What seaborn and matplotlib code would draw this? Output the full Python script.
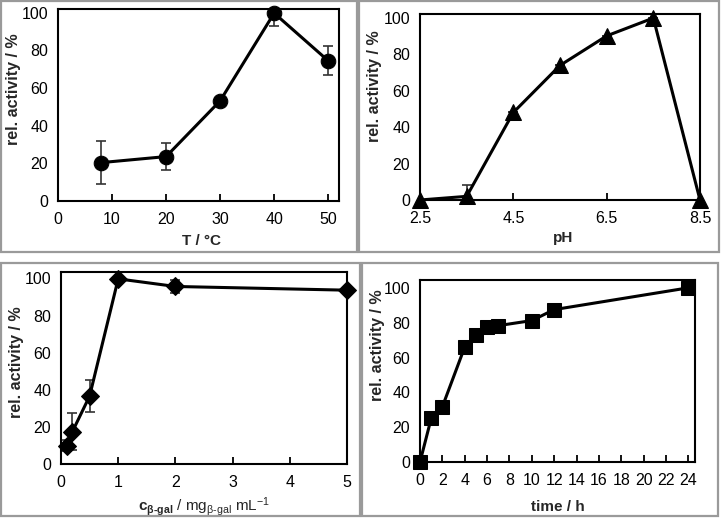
import numpy as np
import matplotlib
matplotlib.use('Agg')
import matplotlib.pyplot as plt
import seaborn as sns
from matplotlib.patches import Rectangle

# temperature panel
temp = [8, 20, 30, 40, 50]
temp_act = [20.4, 23.6, 53.2, 99.8, 74.5]
temp_err = [11.3, 7.3, 1.0, 7.0, 7.7]

# pH panel
ph = [2.5, 3.5, 4.5, 5.5, 6.5, 7.5, 8.5]
ph_act = [0, 2, 48, 73.8, 90, 99.8, 0]
ph_err = [0, 6, 0, 0, 0, 0, 0]

# enzyme concentration panel
conc = [0.1, 0.2, 0.5, 1, 2, 5]
conc_act = [9.9, 17.5, 36.6, 99.8, 95.7, 93.7]
conc_err = [3, 10, 8.5, 1, 3.5, 0]

# time panel
time_h = [0, 1, 2, 4, 5, 6, 7, 10, 12, 24]
time_act = [0, 25, 31.7, 66, 73, 77.3, 78.3, 81.2, 87.5, 100]

W, H = 721, 518

sns.set_theme(style='white')
plt.rcParams['font.family'] = ['Liberation Sans', 'DejaVu Sans']
plt.rcParams['mathtext.fontset'] = 'custom'
plt.rcParams['mathtext.rm'] = 'Liberation Sans'
plt.rcParams['mathtext.bf'] = 'Liberation Sans:bold'
plt.rcParams['mathtext.it'] = 'Liberation Sans'

fig = plt.figure(figsize=(W / 100, H / 100), dpi=100)
fig.patch.set_facecolor('white')

# grey frames round each panel (pixel boxes)
for x0, y0, x1, y1 in [(1, 1, 357, 252), (359, 1, 719, 252),
                       (1, 263, 360, 516), (362, 263, 718, 516)]:
    fig.add_artist(Rectangle((x0 / W, 1 - y1 / H), (x1 - x0) / W, (y1 - y0) / H,
                             transform=fig.transFigure, fill=False,
                             edgecolor='#9a9a9a', lw=1.6))


def make_ax(l, r, t, b):
    return fig.add_axes([l / W, 1 - b / H, (r - l) / W, (b - t) / H])


def style(ax, xlabel, xl_pos, yl_pos, xweight='bold'):
    for s in ax.spines.values():
        s.set_color('black')
        s.set_linewidth(1.5)
    ax.tick_params(axis='x', direction='in', length=5, width=1.3, colors='black',
                   labelsize=11.5, pad=8, bottom=True)
    ax.tick_params(axis='y', length=0, labelsize=11.5, pad=7, colors='black', left=False)
    ax.set_yticks([0, 20, 40, 60, 80, 100])
    ax.set_ylabel('rel. activity / %', fontsize=11.5, fontweight='bold')
    ax.set_xlabel(xlabel, fontsize=11, fontweight=xweight)
    ax.yaxis.label.set_va('center')
    ax.xaxis.label.set_va('center')
    ax.yaxis.set_label_coords(*yl_pos)
    ax.xaxis.set_label_coords(*xl_pos)
    ax.grid(False)


def draw(ax, x, y, err, marker, ms):
    if err is not None:
        ax.errorbar(x, y, yerr=err, fmt='none', ecolor='#333333', elinewidth=1.2,
                    capsize=3.5, capthick=1.2, zorder=2)
    sns.lineplot(x=x, y=y, ax=ax, color='black', linewidth=2.2, marker=marker,
                 markersize=ms, markeredgecolor='black', markerfacecolor='black',
                 estimator=None, sort=False, zorder=3, clip_on=False)


ax1 = make_ax(58, 339, 9, 201)
draw(ax1, temp, temp_act, temp_err, 'o', 10.5)
ax1.set_xlim(0, 52)
ax1.set_ylim(0, 102)
ax1.set_xticks([0, 10, 20, 30, 40, 50])
style(ax1, 'T / °C', (0.51, -0.208), (-0.157, 0.58))

ax2 = make_ax(420, 700, 14, 200)
draw(ax2, ph, ph_act, ph_err, '^', 12)
ax2.set_xlim(2.5, 8.5)
ax2.set_ylim(0, 102)
ax2.set_xticks([2.5, 4.5, 6.5, 8.5])
style(ax2, 'pH', (0.51, -0.204), (-0.164, 0.61))

ax3 = make_ax(61, 347, 272, 464)
draw(ax3, conc, conc_act, conc_err, 'D', 9.5)
ax3.set_xlim(0, 5)
ax3.set_ylim(0, 103.5)
ax3.set_xticks([0, 1, 2, 3, 4, 5])
style(ax3, r'$\mathbf{c_{β‐gal}}$ / mg$_{\mathrm{β‐gal}}$ mL$^{-1}$', (0.50, -0.224),
      (-0.157, 0.53), xweight='normal')

ax4 = make_ax(420, 695, 280, 462)
draw(ax4, time_h, time_act, None, 's', 10)
ax4.set_xlim(0, 24.6)
ax4.set_ylim(0, 104.5)
ax4.set_xticks(np.arange(0, 25, 2))
style(ax4, 'time / h', (0.50, -0.247), (-0.156, 0.64))

fig.savefig('out.png', dpi=100, facecolor='white')
